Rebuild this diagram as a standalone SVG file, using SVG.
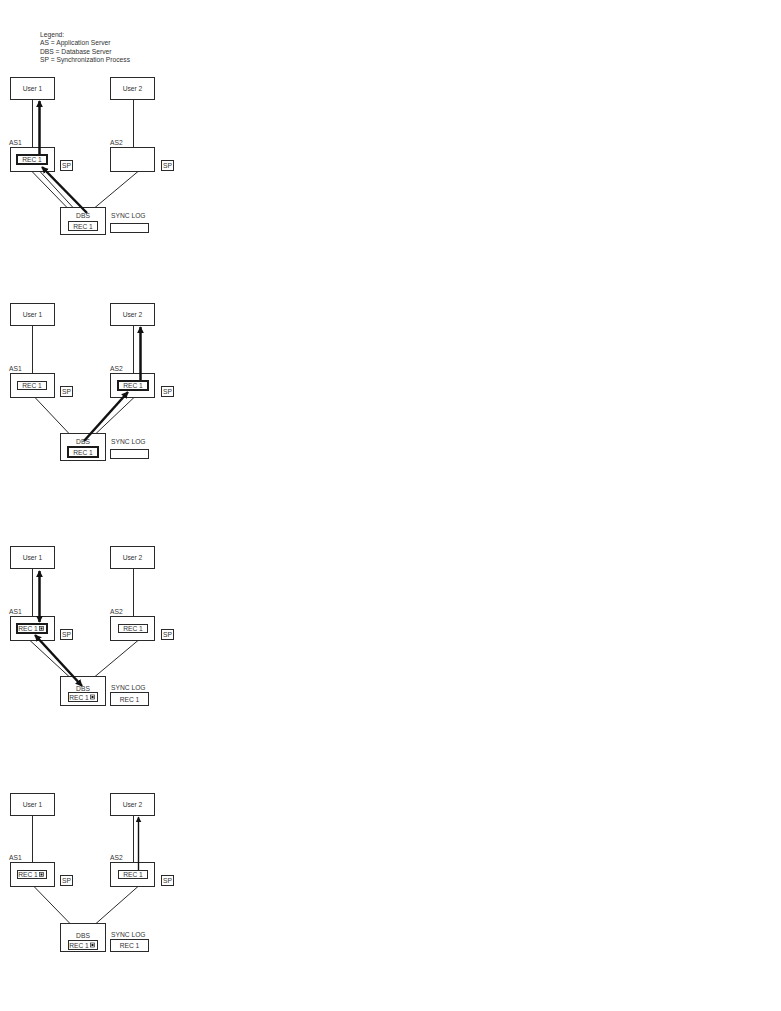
<svg xmlns="http://www.w3.org/2000/svg" width="781" height="1011" viewBox="0 0 781 1011">
<defs>
<style>
text{font-family:"Liberation Sans",Arial,sans-serif;font-size:6.7px;fill:#333;}
.c{text-anchor:middle;dominant-baseline:central;}
.l{dominant-baseline:central;}
.box{fill:#fff;stroke:#2a2a2a;stroke-width:1;}
.rec{fill:#fff;stroke:#2a2a2a;stroke-width:1;}
.recb{fill:#fff;stroke:#1a1a1a;stroke-width:2;}
.ln{stroke:#2a2a2a;stroke-width:1;fill:none;}
.th{stroke:#111;stroke-width:2.5;fill:none;}
.md{stroke:#111;stroke-width:1.4;fill:none;}
.mk{fill:#fff;stroke:#2a2a2a;stroke-width:0.7;}
.mkf{fill:#111;}
</style>
<marker id="ah" viewBox="0 0 10 10" refX="9" refY="5" markerWidth="7" markerHeight="8" markerUnits="userSpaceOnUse" orient="auto-start-reverse">
<path d="M0,0 L10,5 L0,10 Z" fill="#111"/>
</marker>
<marker id="ahs" viewBox="0 0 10 10" refX="9" refY="5" markerWidth="6" markerHeight="6" markerUnits="userSpaceOnUse" orient="auto-start-reverse">
<path d="M0,0 L10,5 L0,10 Z" fill="#111"/>
</marker>
</defs>
<rect width="781" height="1011" fill="#fff"/>

<g id="legend">
<text class="l" x="40" y="34.5">Legend:</text>
<text class="l" x="40" y="42.8">AS = Application Server</text>
<text class="l" x="40" y="51">DBS = Database Server</text>
<text class="l" x="40" y="59">SP = Synchronization Process</text>
</g>

<!-- ===== Panel 1 (T=77) ===== -->
<g id="p1-connectors">
<line class="ln" x1="32.5" y1="99.5" x2="32.5" y2="147.5"/>
<line class="ln" x1="133.5" y1="99.5" x2="133.5" y2="147.5"/>
<line class="ln" x1="32" y1="171.5" x2="67" y2="207.5"/>
<line class="ln" x1="40" y1="171.5" x2="73" y2="207.5"/>
<line class="ln" x1="138" y1="171.5" x2="95" y2="207.5"/>
</g>
<g id="p1-user1"><rect class="box" x="10.5" y="77.5" width="44" height="22"/><text class="c" x="32.5" y="88.5">User 1</text></g>
<g id="p1-user2"><rect class="box" x="110.5" y="77.5" width="44" height="22"/><text class="c" x="132.5" y="88.5">User 2</text></g>
<g id="p1-as1"><text class="l" x="9" y="142">AS1</text><rect class="box" x="10.5" y="147.5" width="44" height="24"/><rect class="recb" x="17" y="155" width="30" height="9"/><text class="c" x="32" y="159.7">REC 1</text></g>
<g id="p1-sp1"><rect class="box" x="60.5" y="160.5" width="12" height="10"/><text class="c" x="66.5" y="165.7">SP</text></g>
<g id="p1-as2"><text class="l" x="110" y="142">AS2</text><rect class="box" x="110.5" y="147.5" width="44" height="24"/></g>
<g id="p1-sp2"><rect class="box" x="161.5" y="160.5" width="12" height="10"/><text class="c" x="167.5" y="165.7">SP</text></g>
<g id="p1-dbs"><rect class="box" x="60.5" y="207.5" width="45" height="27"/><text class="c" x="83" y="215">DBS</text><rect class="rec" x="68.5" y="221.5" width="29" height="9"/><text class="c" x="83" y="226.2">REC 1</text></g>
<g id="p1-synclog"><text class="l" x="111" y="215">SYNC LOG</text><rect class="box" x="110.5" y="223.5" width="38" height="9"/></g>
<g id="p1-flow">
<line class="th" x1="39.5" y1="154" x2="39.5" y2="101" marker-end="url(#ah)"/>
<line class="th" x1="87" y1="213" x2="42" y2="167" marker-end="url(#ah)"/>
</g>

<!-- ===== Panel 2 (T=303) ===== -->
<g id="p2-connectors">
<line class="ln" x1="32.5" y1="325.5" x2="32.5" y2="373.5"/>
<line class="ln" x1="133.5" y1="325.5" x2="133.5" y2="373.5"/>
<line class="ln" x1="35" y1="397.5" x2="69" y2="433.5"/>
<line class="ln" x1="96" y1="433.5" x2="134" y2="397.5"/>
</g>
<g id="p2-user1"><rect class="box" x="10.5" y="303.5" width="44" height="22"/><text class="c" x="32.5" y="314.5">User 1</text></g>
<g id="p2-user2"><rect class="box" x="110.5" y="303.5" width="44" height="22"/><text class="c" x="132.5" y="314.5">User 2</text></g>
<g id="p2-as1"><text class="l" x="9" y="368">AS1</text><rect class="box" x="10.5" y="373.5" width="44" height="24"/><rect class="rec" x="17.5" y="381.5" width="29" height="8"/><text class="c" x="32" y="385.7">REC 1</text></g>
<g id="p2-sp1"><rect class="box" x="60.5" y="386.5" width="12" height="10"/><text class="c" x="66.5" y="391.7">SP</text></g>
<g id="p2-as2"><text class="l" x="110" y="368">AS2</text><rect class="box" x="110.5" y="373.5" width="44" height="24"/><rect class="recb" x="118" y="381" width="30" height="9"/><text class="c" x="133" y="385.7">REC 1</text></g>
<g id="p2-sp2"><rect class="box" x="161.5" y="386.5" width="12" height="10"/><text class="c" x="167.5" y="391.7">SP</text></g>
<g id="p2-dbs"><rect class="box" x="60.5" y="433.5" width="45" height="27"/><text class="c" x="83" y="441">DBS</text><rect class="recb" x="68" y="447" width="30" height="10"/><text class="c" x="83" y="452.2">REC 1</text></g>
<g id="p2-synclog"><text class="l" x="111" y="441">SYNC LOG</text><rect class="box" x="110.5" y="449.5" width="38" height="9"/></g>
<g id="p2-flow">
<line class="th" x1="140.5" y1="380" x2="140.5" y2="327" marker-end="url(#ah)"/>
<line class="th" x1="84" y1="441" x2="128" y2="392" marker-end="url(#ah)"/>
</g>

<!-- ===== Panel 3 (T=546) ===== -->
<g id="p3-connectors">
<line class="ln" x1="32.5" y1="568.5" x2="32.5" y2="616.5"/>
<line class="ln" x1="133.5" y1="568.5" x2="133.5" y2="616.5"/>
<line class="ln" x1="30" y1="640.5" x2="69" y2="676.5"/>
<line class="ln" x1="138" y1="640.5" x2="95" y2="676.5"/>
</g>
<g id="p3-user1"><rect class="box" x="10.5" y="546.5" width="44" height="22"/><text class="c" x="32.5" y="557.5">User 1</text></g>
<g id="p3-user2"><rect class="box" x="110.5" y="546.5" width="44" height="22"/><text class="c" x="132.5" y="557.5">User 2</text></g>
<g id="p3-as1"><text class="l" x="9" y="611">AS1</text><rect class="box" x="10.5" y="616.5" width="44" height="24"/><rect class="recb" x="17" y="624" width="30" height="9"/><text class="c" x="28" y="628.7">REC 1</text><rect class="mk" x="39.5" y="626.5" width="4" height="4"/><rect class="mkf" x="40.5" y="627.5" width="2" height="2"/></g>
<g id="p3-sp1"><rect class="box" x="60.5" y="629.5" width="12" height="10"/><text class="c" x="66.5" y="634.7">SP</text></g>
<g id="p3-as2"><text class="l" x="110" y="611">AS2</text><rect class="box" x="110.5" y="616.5" width="44" height="24"/><rect class="rec" x="118.5" y="624.5" width="29" height="8"/><text class="c" x="133" y="628.7">REC 1</text></g>
<g id="p3-sp2"><rect class="box" x="161.5" y="629.5" width="12" height="10"/><text class="c" x="167.5" y="634.7">SP</text></g>
<g id="p3-dbs"><rect class="box" x="60.5" y="676.5" width="45" height="29"/><text class="c" x="83" y="688">DBS</text><rect class="rec" x="68.5" y="692.5" width="29" height="9"/><text class="c" x="79" y="697.2">REC 1</text><rect class="mk" x="90.5" y="695" width="4" height="4"/><rect class="mkf" x="91.5" y="696" width="2" height="2"/></g>
<g id="p3-synclog"><text class="l" x="111" y="687.5">SYNC LOG</text><rect class="box" x="110.5" y="692.5" width="38" height="13"/><text class="c" x="129.5" y="699.2">REC 1</text></g>
<g id="p3-flow">
<line class="th" x1="39.5" y1="571" x2="39.5" y2="622" marker-start="url(#ah)" marker-end="url(#ah)"/>
<line class="th" x1="35" y1="635" x2="82" y2="686" marker-start="url(#ah)" marker-end="url(#ah)"/>
</g>

<!-- ===== Panel 4 (T=793) ===== -->
<g id="p4-connectors">
<line class="ln" x1="32.5" y1="815.5" x2="32.5" y2="862.5"/>
<line class="ln" x1="133.5" y1="815.5" x2="133.5" y2="862.5"/>
<line class="ln" x1="34" y1="886.5" x2="70" y2="923.5"/>
<line class="ln" x1="138" y1="886.5" x2="96" y2="923.5"/>
</g>
<g id="p4-user1"><rect class="box" x="10.5" y="793.5" width="44" height="22"/><text class="c" x="32.5" y="804.5">User 1</text></g>
<g id="p4-user2"><rect class="box" x="110.5" y="793.5" width="44" height="22"/><text class="c" x="132.5" y="804.5">User 2</text></g>
<g id="p4-as1"><text class="l" x="9" y="857">AS1</text><rect class="box" x="10.5" y="862.5" width="44" height="24"/><rect class="rec" x="17.5" y="870.5" width="29" height="8"/><text class="c" x="28" y="874.7">REC 1</text><rect class="mk" x="39.5" y="872.5" width="4" height="4"/><rect class="mkf" x="40.5" y="873.5" width="2" height="2"/></g>
<g id="p4-sp1"><rect class="box" x="60.5" y="875.5" width="12" height="10"/><text class="c" x="66.5" y="880.7">SP</text></g>
<g id="p4-as2"><text class="l" x="110" y="857">AS2</text><rect class="box" x="110.5" y="862.5" width="44" height="24"/><rect class="rec" x="118.5" y="870.5" width="29" height="8"/><text class="c" x="133" y="874.7">REC 1</text></g>
<g id="p4-sp2"><rect class="box" x="161.5" y="875.5" width="12" height="10"/><text class="c" x="167.5" y="880.7">SP</text></g>
<g id="p4-dbs"><rect class="box" x="60.5" y="923.5" width="45" height="28"/><text class="c" x="83" y="935">DBS</text><rect class="rec" x="68.5" y="940.5" width="29" height="9"/><text class="c" x="79" y="945.2">REC 1</text><rect class="mk" x="90.5" y="943" width="4" height="4"/><rect class="mkf" x="91.5" y="944" width="2" height="2"/></g>
<g id="p4-synclog"><text class="l" x="111" y="934">SYNC LOG</text><rect class="box" x="110.5" y="939.5" width="38" height="12"/><text class="c" x="129.5" y="945.7">REC 1</text></g>
<g id="p4-flow">
<line class="md" x1="138.5" y1="870" x2="138.5" y2="817" marker-end="url(#ahs)"/>
</g>
</svg>
